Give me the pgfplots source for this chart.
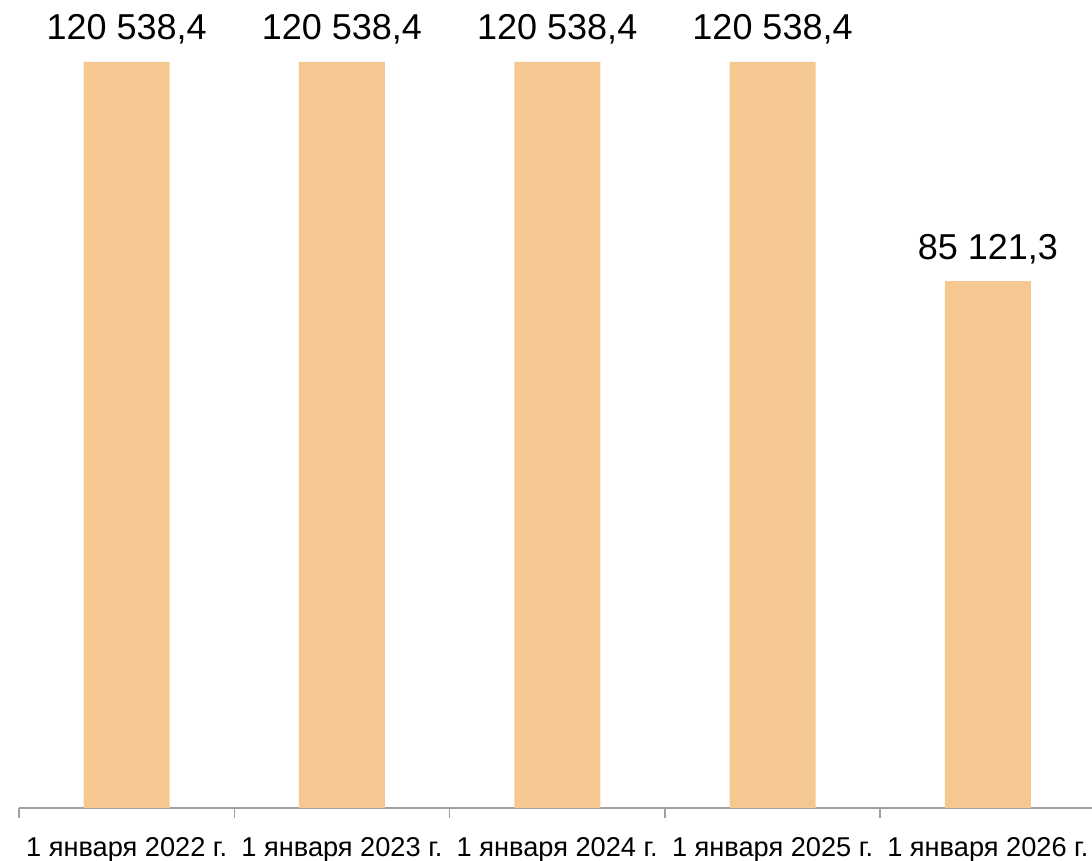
\documentclass[border=0pt]{standalone}
\usepackage{pgfplots}
\pgfplotsset{compat=1.18}
\usepackage{fontspec}
\setmainfont{Liberation Sans}
\definecolor{barc}{RGB}{246,200,145}
\definecolor{axc}{RGB}{160,160,160}
\begin{document}
\begin{tikzpicture}
\useasboundingbox (-9.5pt,-26.5pt) rectangle (536.5pt,404pt);
\begin{axis}[
  scale only axis,
  width=538.25pt, height=404pt,
  xmin=-0.5, xmax=4.5,
  ymin=0, ymax=130557,
  axis x line*=bottom,
  axis y line=none,
  axis line style={axc, line width=0.8pt},
  xtick={0,1,2,3,4},
  xticklabels={1 января 2022 г., 1 января 2023 г., 1 января 2024 г., 1 января 2025 г., 1 января 2026 г.},
  major tick length=0pt,
  extra x ticks={-0.5,0.5,1.5,2.5,3.5,4.5},
  extra x tick labels={},
  extra x tick style={major tick length=5pt, tick style={axc, line width=0.8pt}},
  tick align=outside,
  xticklabel style={font=\fontsize{13.6}{16}\selectfont, yshift=-11pt},
  ybar, bar width=43pt,
  point meta=explicit symbolic,
  nodes near coords,
  every node near coord/.append style={font=\fontsize{18}{21}\selectfont, anchor=base, yshift=11pt, inner sep=0pt},
  clip=false,
]
\addplot[fill=barc, draw=none] table[meta=lab] {
x y lab
0 120538.4 {120 538,4}
1 120538.4 {120 538,4}
2 120538.4 {120 538,4}
3 120538.4 {120 538,4}
4 85121.3 {85 121,3}
};
\end{axis}
\end{tikzpicture}
\end{document}
